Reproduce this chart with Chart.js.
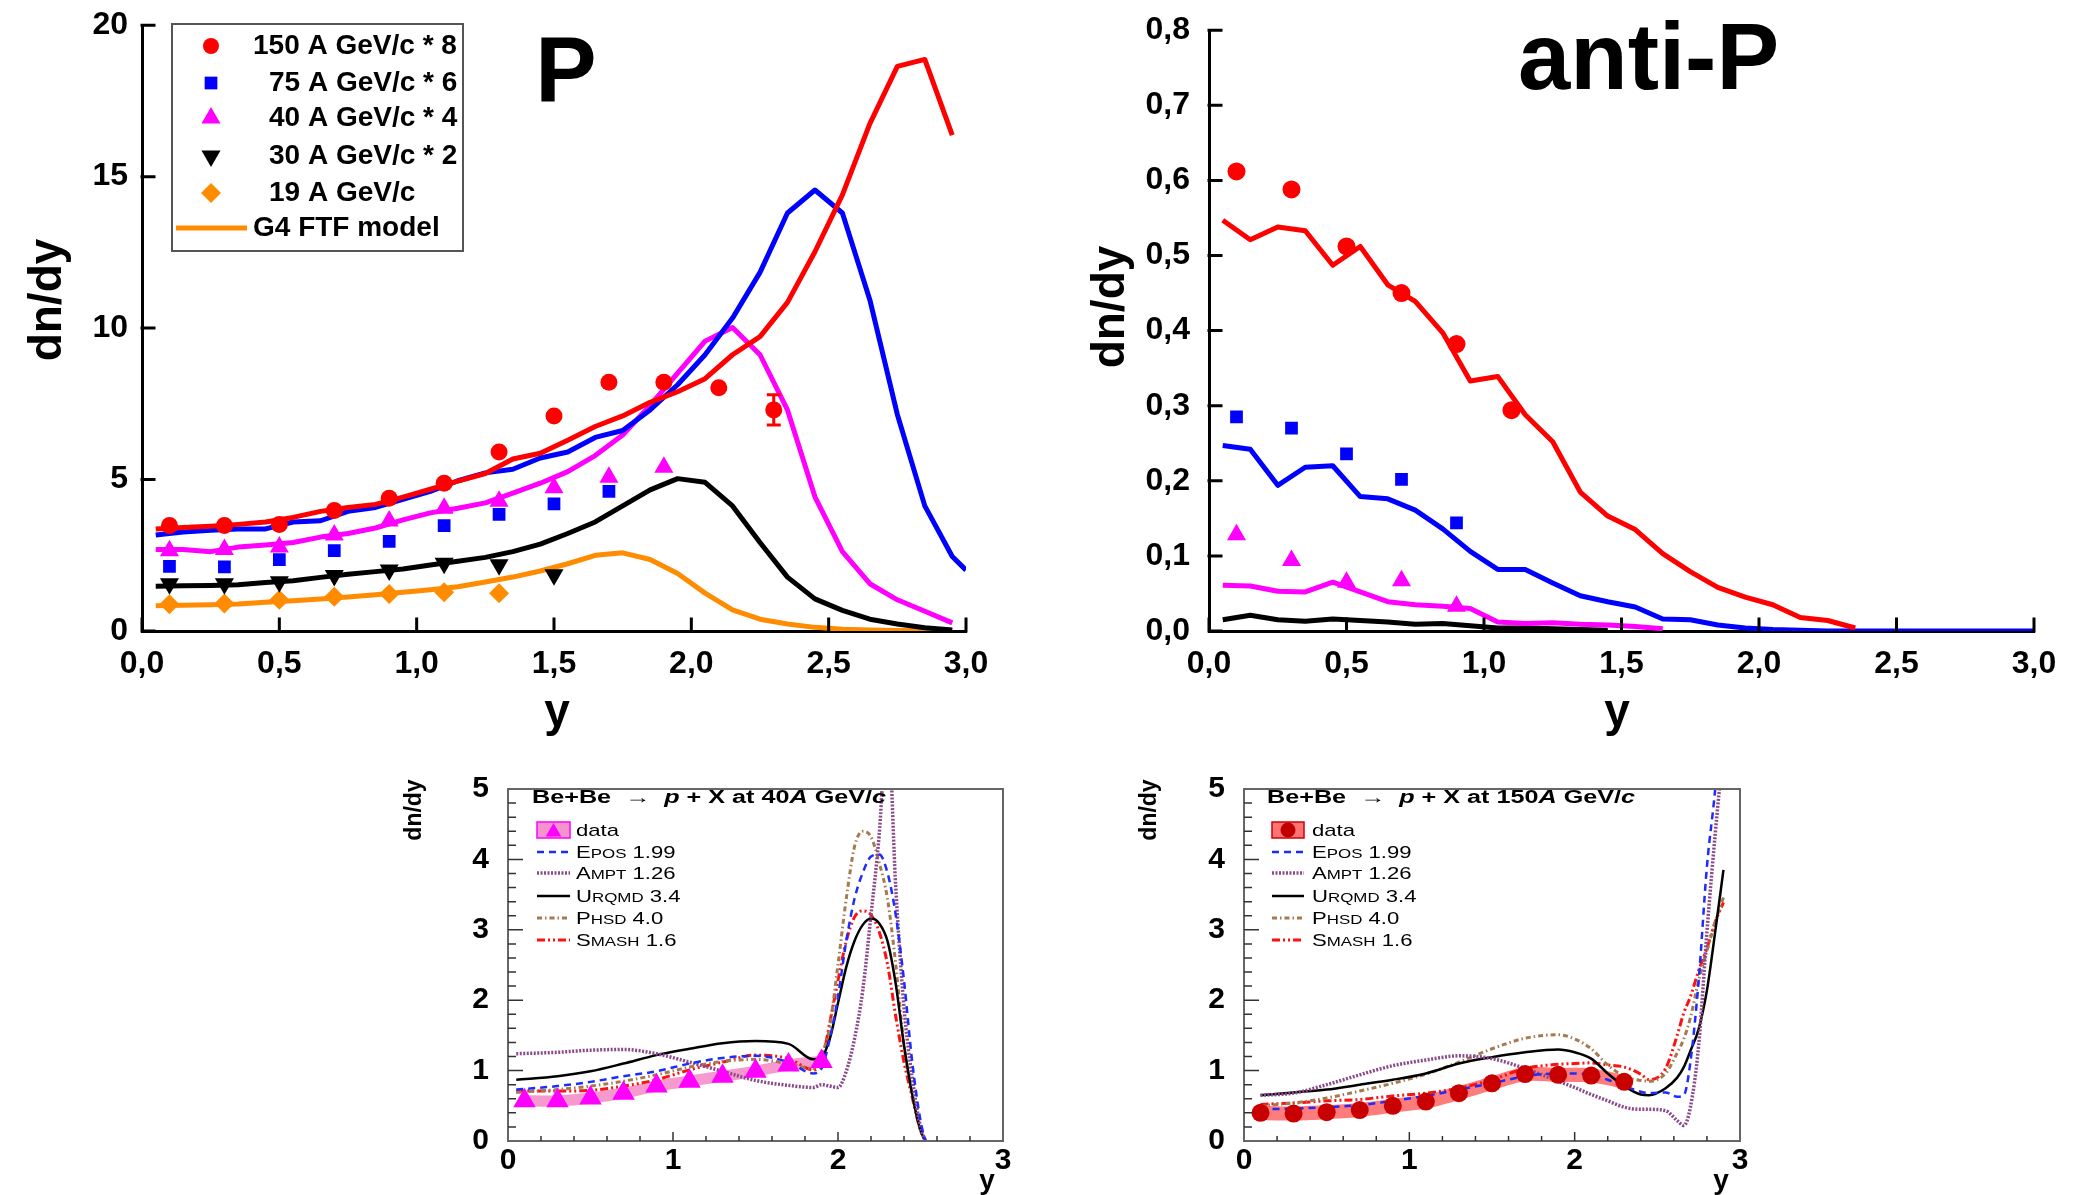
<!DOCTYPE html>
<html>
<head>
<meta charset="utf-8">
<script src="https://cdn.jsdelivr.net/npm/chart.js@4.4.1/dist/chart.umd.min.js"></script>
<style>
  body { margin: 0; background: #fff; width: 2075px; height: 1195px; position: relative; overflow: hidden; }
  canvas { position: absolute; }
</style>
</head>
<body>
<canvas id="cP" width="1040" height="760" style="left:0;top:0"></canvas>
<canvas id="cA" width="1035" height="760" style="left:1040px;top:0"></canvas>
<canvas id="c40" width="650" height="435" style="left:380px;top:760px"></canvas>
<canvas id="c150" width="650" height="435" style="left:1110px;top:760px"></canvas>
<script>
// ---------- top left: P, data (scaled) + G4 FTF model ----------
const dataX = [0.1, 0.3, 0.5, 0.7, 0.9, 1.1, 1.3, 1.5, 1.7, 1.9, 2.1, 2.3];
const p150 = [3.48, 3.48, 3.52, 3.98, 4.38, 4.88, 5.91, 7.10, 8.21, 8.21, 8.03, 7.30];
const p150Err = [0, 0, 0, 0, 0, 0, 0, 0, 0, 0, 0, 0.5];
const p75 = [2.13, 2.12, 2.36, 2.65, 2.96, 3.48, 3.85, 4.20, 4.61];
const p40 = [2.65, 2.69, 2.77, 3.17, 3.63, 4.05, 4.28, 4.73, 5.08, 5.41];
const p30 = [1.56, 1.56, 1.63, 1.83, 2.01, 2.24, 2.19, 1.86];
const p19 = [0.88, 0.91, 1.03, 1.13, 1.22, 1.28, 1.25];

const ftfX = [0.05, 0.15, 0.25, 0.35, 0.45, 0.55, 0.65, 0.75, 0.85, 0.95, 1.05, 1.15, 1.25, 1.35, 1.45,
  1.55, 1.65, 1.75, 1.85, 1.95, 2.05, 2.15, 2.25, 2.35, 2.45, 2.55, 2.65, 2.75, 2.85, 2.95, 3.0];
const ftf150 = [3.37, 3.42, 3.46, 3.52, 3.60, 3.75, 3.95, 4.08, 4.18, 4.42, 4.68, 4.95, 5.20, 5.68, 5.87,
  6.30, 6.75, 7.10, 7.55, 7.90, 8.33, 9.12, 9.72, 10.85, 12.52, 14.40, 16.75, 18.64, 18.87, 16.37, null];
const ftf75 = [3.17, 3.27, 3.33, 3.37, 3.37, 3.60, 3.64, 3.95, 4.08, 4.35, 4.61, 4.96, 5.22, 5.34, 5.71,
  5.91, 6.39, 6.62, 7.30, 8.13, 9.12, 10.33, 11.84, 13.80, 14.56, 13.80, 10.93, 7.15, 4.13, 2.46, 2.01];
const ftf40 = [2.69, 2.69, 2.62, 2.77, 2.84, 2.92, 3.10, 3.22, 3.40, 3.67, 3.90, 4.05, 4.23, 4.55, 4.88,
  5.26, 5.79, 6.47, 7.45, 8.51, 9.57, 10.02, 9.12, 7.30, 4.43, 2.62, 1.56, 1.03, 0.65, 0.27, null];
const ftf30 = [1.48, 1.49, 1.50, 1.53, 1.60, 1.66, 1.77, 1.87, 1.96, 2.05, 2.18, 2.30, 2.43, 2.62, 2.87,
  3.22, 3.60, 4.13, 4.66, 5.03, 4.91, 4.13, 2.92, 1.78, 1.06, 0.68, 0.39, 0.23, 0.11, 0.03, null];
const ftf19 = [0.83, 0.85, 0.87, 0.89, 0.95, 1.00, 1.06, 1.12, 1.20, 1.28, 1.36, 1.46, 1.62, 1.78, 1.98,
  2.22, 2.50, 2.58, 2.36, 1.90, 1.25, 0.70, 0.39, 0.23, 0.12, 0.06, 0.03, 0.02, 0.01, 0.01, null];
const pLegend = ['150 A GeV/c * 8', '75 A GeV/c * 6', '40 A GeV/c * 4', '30 A GeV/c * 2', '19 A GeV/c', 'G4 FTF model'];

// ---------- top right: anti-P ----------
const aData150 = [0.612, 0.588, 0.512, 0.450, 0.382, 0.294];
const aData75 = [0.285, 0.270, 0.236, 0.202, 0.144];
const aData40 = [0.128, 0.094, 0.065, 0.067, 0.033];
const aFtf150 = [0.547, 0.521, 0.538, 0.533, 0.487, 0.512, 0.461, 0.439, 0.397, 0.333, 0.339, 0.288, 0.252, 0.185, 0.153,
  0.135, 0.103, 0.079, 0.058, 0.045, 0.035, 0.018, 0.014, 0.004, null, null, null, null, null, null, null];
const aFtf75 = [0.247, 0.242, 0.194, 0.218, 0.220, 0.179, 0.176, 0.161, 0.136, 0.106, 0.082, 0.082, 0.064, 0.047, 0.039,
  0.032, 0.016, 0.015, 0.008, 0.004, 0.002, 0.001, 0, 0, 0, 0, 0, 0, 0, 0, 0];
const aFtf40 = [0.061, 0.060, 0.053, 0.052, 0.065, 0.052, 0.039, 0.035, 0.033, 0.030, 0.012, 0.010, 0.011, 0.009, 0.008,
  0.006, 0.003, null, null, null, null, null, null, null, null, null, null, null, null, null, null];
const aFtf30 = [0.015, 0.021, 0.015, 0.013, 0.016, 0.014, 0.012, 0.009, 0.010, 0.007, 0.004, 0.004, 0.003, 0.002, 0.001,
  null, null, null, null, null, null, null, null, null, null, null, null, null, null, null, null];

// ---------- bottom: Be+Be -> p + X, models ----------
const data40 = [0.57, 0.57, 0.61, 0.68, 0.78, 0.85, 0.92, 0.99, 1.08, 1.13];
const sys40 = [0.08, 0.08, 0.08, 0.08, 0.08, 0.08, 0.08, 0.08, 0.08, 0.08];
const m40X = [0.05, 0.3, 0.5, 0.7, 0.9, 1.1, 1.3, 1.5, 1.7, 1.85, 1.9, 1.95, 2.0, 2.05, 2.1, 2.15, 2.2, 2.25, 2.3, 2.35, 2.4, 2.45, 2.5, 2.53];
const epos40 = [0.73, 0.78, 0.84, 0.92, 0.99, 1.10, 1.18, 1.21, 1.12, 0.96, 1.03, 1.45, 2.05, 2.84, 3.44, 3.81, 4.04, 4.07, 3.81, 3.21, 2.28, 1.12, 0.29, 0];
const ampt40 = [1.24, 1.26, 1.29, 1.30, 1.24, 1.12, 0.99, 0.86, 0.79, 0.76, 0.80, 0.78, 0.76, 0.99, 1.45, 2.14, 3.21, 4.36, 6.0, 3.6, 1.9, 0.89, 0.20, 0];
const urqmd40 = [0.87, 0.92, 0.99, 1.10, 1.22, 1.31, 1.39, 1.42, 1.38, 1.16, 1.19, 1.45, 1.96, 2.47, 2.84, 3.07, 3.16, 3.09, 2.84, 2.23, 1.36, 0.66, 0.15, 0];
const phsd40 = [0.69, 0.73, 0.78, 0.85, 0.94, 1.05, 1.13, 1.16, 1.10, 1.03, 1.22, 1.63, 2.51, 3.44, 4.18, 4.40, 4.32, 3.95, 3.44, 2.51, 1.36, 0.66, 0.15, 0];
const smash40 = [0.71, 0.71, 0.72, 0.78, 0.87, 1.01, 1.12, 1.22, 1.17, 1.01, 1.12, 1.68, 2.28, 2.84, 3.18, 3.27, 3.21, 2.97, 2.51, 1.77, 1.12, 0.62, 0.15, 0];

const data150 = [0.40, 0.39, 0.41, 0.44, 0.50, 0.56, 0.68, 0.82, 0.95, 0.94, 0.93, 0.84];
const sys150 = [0.1, 0.1, 0.1, 0.1, 0.1, 0.1, 0.1, 0.1, 0.1, 0.1, 0.1, 0.1];
const m150X = [0.1, 0.3, 0.5, 0.7, 0.9, 1.1, 1.3, 1.5, 1.7, 1.9, 2.0, 2.1, 2.2, 2.3, 2.4, 2.45, 2.55, 2.62, 2.66, 2.7, 2.75, 2.8, 2.85, 2.9];
const epos150 = [0.45, 0.46, 0.48, 0.51, 0.57, 0.64, 0.73, 0.82, 0.92, 0.96, 0.96, 0.94, 0.87, 0.78, 0.70, 0.68, 0.69, 0.63, 0.65, 1.12, 2.28, 3.90, 5.0, 6.5];
const ampt150 = [0.65, 0.68, 0.80, 0.94, 1.07, 1.15, 1.21, 1.17, 1.03, 0.85, 0.76, 0.66, 0.57, 0.48, 0.45, 0.45, 0.43, 0.29, 0.22, 0.48, 1.36, 2.97, 4.36, 5.6];
const urqmd150 = [0.65, 0.69, 0.73, 0.80, 0.87, 0.96, 1.10, 1.19, 1.26, 1.30, 1.26, 1.17, 0.96, 0.78, 0.66, 0.65, 0.75, 0.90, 1.05, 1.28, 1.59, 2.14, 2.97, 3.85];
const phsd150 = [0.50, 0.54, 0.61, 0.71, 0.82, 0.95, 1.12, 1.31, 1.46, 1.51, 1.45, 1.31, 1.08, 0.92, 0.86, 0.85, 0.96, 1.25, 1.45, 1.75, 2.28, 2.70, 3.11, 3.46];
const smash150 = [0.52, 0.54, 0.57, 0.59, 0.64, 0.68, 0.75, 0.87, 1.03, 1.09, 1.10, 1.11, 1.08, 1.05, 0.95, 0.87, 1.03, 1.50, 1.82, 2.05, 2.42, 2.74, 3.11, 3.39];
const modelNames = [['E', 'POS', ' 1.99'], ['A', 'MPT', ' 1.26'], ['U', 'RQMD', ' 3.4'], ['P', 'HSD', ' 4.0'], ['S', 'MASH', ' 1.6']];

// ---------- helpers ----------
const FONT = '"Liberation Sans", Arial, sans-serif';
const bold = s => `bold ${s}px ${FONT}`;
const comma = v => Number(v).toFixed(1).replace('.', ',');
const pts = (xs, ys) => xs.map((x, i) => ({x: x, y: ys[i]})).filter(p => p.y !== null && p.y !== undefined);

const RED = '#ff0000', BLUE = '#0000ff', MAG = '#ff00ff', ORANGE = '#ff8c00';
const models = [
  {color: '#1c2cff', width: 2.5, dash: [7, 5]},
  {color: '#8a4a8a', width: 3.5, dash: [2, 1.5]},
  {color: '#000000', width: 2.5, dash: []},
  {color: '#a57a50', width: 3, dash: [5, 3, 1.5, 3]},
  {color: '#ff1010', width: 3, dash: [8, 3, 2, 3, 2, 3]}
];

function shape(ctx, style, x, y, r, color) {
  ctx.save();
  ctx.fillStyle = color;
  ctx.beginPath();
  if (style === 'circle') ctx.arc(x, y, r, 0, 2 * Math.PI);
  else if (style === 'rect') { const h = r * Math.SQRT1_2; ctx.rect(x - h, y - h, 2 * h, 2 * h); }
  else if (style === 'rectRot') { ctx.moveTo(x, y - r); ctx.lineTo(x + r, y); ctx.lineTo(x, y + r); ctx.lineTo(x - r, y); }
  else {
    const s = style === 'triangleDown' ? -1 : 1, k = Math.sqrt(3) / 2 * r;
    ctx.moveTo(x, y - s * r); ctx.lineTo(x + k, y + s * r / 2); ctx.lineTo(x - k, y + s * r / 2);
  }
  ctx.closePath();
  ctx.fill();
  ctx.restore();
}

function vText(ctx, t, x, y, font) {
  ctx.save();
  ctx.translate(x, y);
  ctx.rotate(-Math.PI / 2);
  ctx.font = font; ctx.fillStyle = '#000'; ctx.textAlign = 'center'; ctx.textBaseline = 'middle';
  ctx.fillText(t, 0, 0);
  ctx.restore();
}

// runs of text drawn left to right, optionally stretched horizontally (to fit a width)
function runs(ctx, x, y, parts, sx, fitW) {
  ctx.save();
  ctx.fillStyle = '#000'; ctx.textAlign = 'left'; ctx.textBaseline = 'alphabetic';
  let w = 0;
  parts.forEach(p => { ctx.font = p[1]; w += ctx.measureText(p[0]).width; });
  if (fitW) sx = fitW / w;
  ctx.translate(x, y);
  ctx.scale(sx, 1);
  let cx = 0;
  parts.forEach(p => { ctx.font = p[1]; ctx.fillText(p[0], cx, 0); cx += ctx.measureText(p[0]).width; });
  ctx.restore();
}

function inTicks(chart, len, lw) {
  const ctx = chart.ctx, a = chart.chartArea, sx = chart.scales.x, sy = chart.scales.y;
  ctx.save();
  ctx.strokeStyle = '#000'; ctx.lineWidth = lw; ctx.lineCap = 'square';
  ctx.beginPath();
  sx.ticks.forEach(t => { const px = sx.getPixelForValue(t.value); ctx.moveTo(px, a.bottom); ctx.lineTo(px, a.bottom - len); });
  sy.ticks.forEach(t => { const py = sy.getPixelForValue(t.value); ctx.moveTo(a.left, py); ctx.lineTo(a.left + len, py); });
  ctx.stroke();
  ctx.restore();
}

const line = (xs, ys, color) => ({data: pts(xs, ys), showLine: true, borderColor: color, borderWidth: 5,
  borderJoinStyle: 'round', pointRadius: 0, tension: 0, fill: false});
const marks = (xs, ys, color, style, r, rot) => ({data: pts(xs, ys), showLine: false, pointStyle: style,
  pointRadius: r, pointRotation: rot || 0, backgroundColor: color, borderColor: color, pointBorderWidth: 0});

function topOptions(ymax, ystep, yfmt, axisW, padRight, yPad) {
  const tf = {family: FONT, size: 32, weight: 'bold'};
  return {
    responsive: false, animation: false, devicePixelRatio: 1,
    layout: {padding: {left: 0, top: 24, right: padRight, bottom: 0}},
    plugins: {legend: {display: false}, tooltip: {enabled: false}},
    scales: {
      x: {type: 'linear', min: 0, max: 3, grid: {display: false}, border: {color: '#000', width: 3},
        ticks: {stepSize: 0.5, color: '#000', padding: 6, font: tf, maxRotation: 0, callback: v => comma(v)},
        afterFit: s => { s.height = 129; }},
      y: {type: 'linear', min: 0, max: ymax, grid: {display: false}, border: {color: '#000', width: 3},
        ticks: {stepSize: ystep, color: '#000', padding: yPad, font: tf, callback: yfmt},
        afterFit: s => { s.width = axisW; }}
    }
  };
}

// ---------- top left chart ----------
const pDecor = {
  id: 'pDecor',
  afterDraw(chart) {
    const ctx = chart.ctx, sx = chart.scales.x, sy = chart.scales.y;
    inTicks(chart, 12, 3);
    // error bars
    ctx.save();
    ctx.strokeStyle = RED; ctx.lineWidth = 3;
    dataX.forEach((x, i) => {
      if (!p150Err[i]) return;
      const px = sx.getPixelForValue(x), lo = sy.getPixelForValue(p150[i] - p150Err[i]), hi = sy.getPixelForValue(p150[i] + p150Err[i]);
      ctx.beginPath();
      ctx.moveTo(px, lo); ctx.lineTo(px, hi);
      ctx.moveTo(px - 7, lo); ctx.lineTo(px + 7, lo);
      ctx.moveTo(px - 7, hi); ctx.lineTo(px + 7, hi);
      ctx.stroke();
    });
    ctx.restore();
    // legend
    ctx.save();
    ctx.strokeStyle = '#555'; ctx.lineWidth = 2;
    ctx.strokeRect(172, 24, 291, 227);
    const ly = [46, 83, 118, 156, 193, 228];
    const sym = [['circle', RED, 8], ['rect', BLUE, 9], ['triangle', MAG, 11], ['triangleDown', '#000', 11], ['rectRot', ORANGE, 10]];
    sym.forEach((s, i) => shape(ctx, s[0], 211, ly[i], s[2], s[1]));
    ctx.strokeStyle = ORANGE; ctx.lineWidth = 5;
    ctx.beginPath(); ctx.moveTo(176, ly[5]); ctx.lineTo(247, ly[5]); ctx.stroke();
    ctx.font = bold(28); ctx.fillStyle = '#000'; ctx.textBaseline = 'middle'; ctx.textAlign = 'left';
    pLegend.forEach((t, i) => ctx.fillText(t, (i === 0 || i === 5) ? 253 : 269, ly[i]));
    // titles
    ctx.font = bold(92); ctx.textAlign = 'center'; ctx.textBaseline = 'alphabetic';
    ctx.fillText('P', 566, 102);
    ctx.font = bold(46);
    ctx.fillText('y', 557, 726);
    ctx.restore();
    vText(ctx, 'dn/dy', 48, 300, bold(46));
  }
};

new Chart(document.getElementById('cP'), {
  type: 'scatter',
  data: {datasets: [
    marks(dataX, p150, RED, 'circle', 8.5),
    marks(dataX, p75, BLUE, 'rect', 9),
    marks(dataX, p40, MAG, 'triangle', 11),
    marks(dataX, p30, '#000', 'triangle', 11, 180),
    marks(dataX, p19, ORANGE, 'rectRot', 10),
    line(ftfX, ftf150, RED),
    line(ftfX, ftf75, BLUE),
    line(ftfX, ftf40, MAG),
    line(ftfX, ftf30, '#000'),
    line(ftfX, ftf19, ORANGE)
  ]},
  options: topOptions(20, 5, v => String(v), 142, 74, 6),
  plugins: [pDecor]
});

// ---------- top right chart ----------
const aDecor = {
  id: 'aDecor',
  afterDraw(chart) {
    const ctx = chart.ctx;
    inTicks(chart, 12, 3);
    ctx.save();
    ctx.fillStyle = '#000'; ctx.textAlign = 'left'; ctx.textBaseline = 'alphabetic';
    ctx.font = bold(94);
    ctx.fillText('anti-P', 478, 89);
    ctx.font = bold(46); ctx.textAlign = 'center';
    ctx.fillText('y', 577, 726);
    ctx.restore();
    vText(ctx, 'dn/dy', 71, 307, bold(46));
  }
};

new Chart(document.getElementById('cA'), {
  type: 'scatter',
  data: {datasets: [
    marks(dataX, aData150, RED, 'circle', 9),
    marks(dataX, aData75, BLUE, 'rect', 9),
    marks(dataX, aData40, MAG, 'triangle', 11),
    line(ftfX, aFtf150, RED),
    line(ftfX, aFtf75, BLUE),
    line(ftfX, aFtf40, MAG),
    line(ftfX, aFtf30, '#000')
  ]},
  options: topOptions(0.8, 0.1, v => comma(v), 169, 41, 11),
  plugins: [aDecor]
});

// ---------- bottom charts ----------
const curve = (xs, ys, m) => ({data: pts(xs, ys), showLine: true, borderColor: m.color, borderWidth: m.width,
  borderDash: m.dash, pointRadius: 0, cubicInterpolationMode: 'monotone', fill: false, clip: 1});
const band = (xs, ys, sys, sign, color) => ({data: pts(xs, ys.map((v, i) => v + sign * sys[i])), showLine: true,
  borderWidth: 0, borderColor: 'rgba(0,0,0,0)', backgroundColor: color, pointRadius: 0, tension: 0.3,
  fill: sign > 0 ? '+1' : false});

function bottomOptions(axisW, padRight) {
  const tf = {family: FONT, size: 30, weight: 'bold'};
  return {
    responsive: false, animation: false, devicePixelRatio: 1,
    layout: {padding: {left: 0, top: 21, right: padRight, bottom: 0}},
    plugins: {legend: {display: false}, tooltip: {enabled: false}},
    scales: {
      x: {type: 'linear', min: 0, max: 3, grid: {display: false}, border: {display: false},
        ticks: {stepSize: 1, color: '#000', padding: -6, font: tf, maxRotation: 0},
        afterFit: s => { s.height = 54; }},
      y: {type: 'linear', min: 0, max: 5, grid: {display: false}, border: {display: false},
        ticks: {stepSize: 1, color: '#000', padding: 11, font: tf},
        afterFit: s => { s.width = axisW; }}
    }
  };
}

function bottomDecor(o) {
  return {
    id: 'bDecor' + o.energy,
    afterDraw(chart) {
      const ctx = chart.ctx, a = chart.chartArea, sx = chart.scales.x, sy = chart.scales.y;
      ctx.save();
      ctx.strokeStyle = '#666'; ctx.lineWidth = 2;
      ctx.strokeRect(a.left, a.top, a.width, a.height);
      ctx.strokeStyle = '#333'; ctx.lineWidth = 1.5;
      ctx.beginPath();
      for (let i = 1; i < 25; i++) {
        const py = sy.getPixelForValue(i * 0.2), len = i % 5 === 0 ? 15 : 8;
        ctx.moveTo(a.left, py); ctx.lineTo(a.left + len, py);
      }
      for (let i = 1; i < 15; i++) {
        const px = sx.getPixelForValue(i * 0.2), len = i % 5 === 0 ? 9 : 5;
        ctx.moveTo(px, a.bottom); ctx.lineTo(px, a.bottom - len);
      }
      ctx.stroke();
      ctx.restore();

      // title
      const B = bold(18), BI = `italic bold 18px ${FONT}`;
      runs(ctx, o.titleX, 43, [['Be+Be  \u2192  ', B], ['p', BI], [' + X at ' + o.energy, B], ['A', BI], [' GeV/', B], ['c', BI]], 1, o.titleW);

      // legend
      const ly = [70, 92, 113, 136, 158, 180];
      ctx.save();
      ctx.fillStyle = o.boxColor; ctx.strokeStyle = o.boxEdge; ctx.lineWidth = 1.5;
      ctx.fillRect(o.lx0, ly[0] - 8, o.lx1 - o.lx0, 16);
      ctx.strokeRect(o.lx0, ly[0] - 8, o.lx1 - o.lx0, 16);
      ctx.restore();
      shape(ctx, o.markStyle, (o.lx0 + o.lx1) / 2, ly[0] + (o.markStyle === 'triangle' ? 2 : 0), o.markStyle === 'triangle' ? 9 : 7.5, o.markColor);
      const R = s => `${s}px ${FONT}`;
      runs(ctx, o.tx, ly[0] + 6, [['data', R(17)]], 1.3);
      models.forEach((m, i) => {
        const y = ly[i + 1];
        ctx.save();
        ctx.strokeStyle = m.color; ctx.lineWidth = m.width; ctx.setLineDash(m.dash);
        ctx.beginPath(); ctx.moveTo(o.lx0, y); ctx.lineTo(o.lx1, y); ctx.stroke();
        ctx.restore();
        const n = modelNames[i];
        runs(ctx, o.tx, y + 6, [[n[0], R(17)], [n[1], R(13)], [n[2], R(17)]], 1.3);
      });

      // axis titles
      vText(ctx, 'dn/dy', o.dnX, 50, bold(23));
      ctx.save();
      ctx.font = bold(28); ctx.fillStyle = '#000'; ctx.textAlign = 'center'; ctx.textBaseline = 'alphabetic';
      ctx.fillText('y', o.yX, 429);
      ctx.restore();
    }
  };
}

new Chart(document.getElementById('c40'), {
  type: 'scatter',
  data: {datasets: [
    marks(dataX.slice(0, 10), data40, MAG, 'triangle', 13),
    curve(m40X, epos40, models[0]),
    curve(m40X, ampt40, models[1]),
    curve(m40X, urqmd40, models[2]),
    curve(m40X, phsd40, models[3]),
    curve(m40X, smash40, models[4]),
    band(dataX.slice(0, 10), data40, sys40, 1, 'rgba(242,110,185,0.7)'),
    band(dataX.slice(0, 10), data40, sys40, -1, 'rgba(242,110,185,0.7)')
  ]},
  options: bottomOptions(128, 27),
  plugins: [bottomDecor({energy: '40', titleX: 152, titleW: 354, lx0: 157, lx1: 190, tx: 196,
    boxColor: 'rgba(242,120,190,0.8)', boxEdge: '#ff00ff', markStyle: 'triangle', markColor: MAG, dnX: 35, yX: 607})]
});

new Chart(document.getElementById('c150'), {
  type: 'scatter',
  data: {datasets: [
    marks(dataX, data150, '#c80000', 'circle', 9),
    curve(m150X, epos150, models[0]),
    curve(m150X, ampt150, models[1]),
    curve(m150X, urqmd150, models[2]),
    curve(m150X, phsd150, models[3]),
    curve(m150X, smash150, models[4]),
    band(dataX, data150, sys150, 1, 'rgba(255,80,80,0.75)'),
    band(dataX, data150, sys150, -1, 'rgba(255,80,80,0.75)')
  ]},
  options: bottomOptions(134, 20),
  plugins: [bottomDecor({energy: '150', titleX: 157, titleW: 368, lx0: 162, lx1: 194, tx: 202,
    boxColor: 'rgba(255,80,80,0.8)', boxEdge: '#d00000', markStyle: 'circle', markColor: '#c00000', dnX: 40, yX: 611})]
});
</script>
</body>
</html>
